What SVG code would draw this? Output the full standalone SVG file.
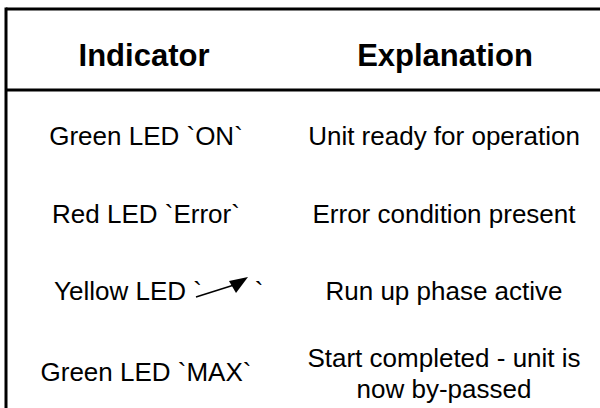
<svg xmlns="http://www.w3.org/2000/svg" width="600" height="408" viewBox="0 0 600 408">
<defs>
<style>
.h{font-family:"Liberation Sans",Arial,sans-serif;font-weight:bold;font-size:31px;fill:#000;text-anchor:middle}
.t{font-family:"Liberation Sans",Arial,sans-serif;font-size:26px;fill:#000;text-anchor:middle}
.ln{stroke:#000;stroke-width:3;fill:none}
</style>
</defs>
<rect width="600" height="408" fill="#fff"/>
<g id="frame">
<line class="ln" x1="6" y1="9" x2="600" y2="9"/>
<line class="ln" x1="6" y1="7.5" x2="6" y2="408"/>
<line class="ln" x1="6" y1="90" x2="600" y2="90"/>
</g>
<g id="header">
<text class="h" x="144" y="66">Indicator</text>
<text class="h" x="445" y="66">Explanation</text>
</g>
<g id="row1">
<text class="t" x="146" y="145">Green LED `ON`</text>
<text class="t" x="444" y="145">Unit ready for operation</text>
</g>
<g id="row2">
<text class="t" x="146" y="223">Red LED `Error`</text>
<text class="t" x="444" y="223">Error condition present</text>
</g>
<g id="row3">
<text class="t" x="128" y="300">Yellow LED `</text>
<line x1="196" y1="297" x2="234" y2="285" stroke="#000" stroke-width="1.5"/>
<polygon points="248,277 229,281 236,293" fill="#000"/>
<text class="t" x="259" y="300">`</text>
<text class="t" x="444" y="300">Run up phase active</text>
</g>
<g id="row4">
<text class="t" x="146" y="381">Green LED `MAX`</text>
<text class="t" x="444" y="367">Start completed - unit is</text>
<text class="t" x="444" y="398">now by-passed</text>
</g>
</svg>
